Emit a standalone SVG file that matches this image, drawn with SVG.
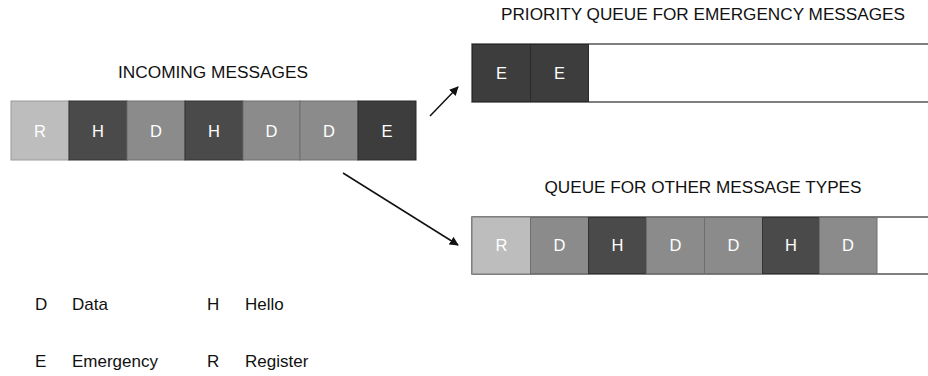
<svg xmlns="http://www.w3.org/2000/svg" width="928" height="376" viewBox="0 0 928 376">
  <style>
    .title { font-family: "Liberation Sans", Arial, sans-serif; font-size: 16px; fill: #111; text-anchor: middle; }
    .cell-text { font-family: "Liberation Sans", Arial, sans-serif; font-size: 16.5px; fill: #fff; text-anchor: middle; }
    .legend { font-family: "Liberation Sans", Arial, sans-serif; font-size: 17px; fill: #111; }
    .R { fill: #bdbdbd; stroke: #9a9a9a; stroke-width: 1; }
    .H { fill: #4a4a4a; stroke: #333; stroke-width: 1; }
    .D { fill: #8b8b8b; stroke: #6e6e6e; stroke-width: 1; }
    .E { fill: #3d3d3d; stroke: #2a2a2a; stroke-width: 1; }
    .queue { fill: #fff; stroke: #555; stroke-width: 1.5; }
    .arrow { stroke: #111; stroke-width: 1.5; fill: none; marker-end: url(#head); }
  </style>
  <defs>
    <marker id="head" viewBox="0 0 10 10" refX="9" refY="5" markerWidth="9" markerHeight="9" markerUnits="userSpaceOnUse" orient="auto">
      <path d="M0,0 L10,5 L0,10 z" fill="#111"/>
    </marker>
  </defs>
  <rect width="928" height="376" fill="#fff"/>

  <!-- incoming message stream -->
  <g id="incoming">
    <text class="title" x="213" y="78" textLength="190" lengthAdjust="spacingAndGlyphs">INCOMING MESSAGES</text>
    <rect class="R" x="11" y="101" width="58" height="59"/>
    <rect class="H" x="69" y="101" width="58" height="59"/>
    <rect class="D" x="127" y="101" width="58" height="59"/>
    <rect class="H" x="185" y="101" width="58" height="59"/>
    <rect class="D" x="243" y="101" width="57" height="59"/>
    <rect class="D" x="300" y="101" width="58" height="59"/>
    <rect class="E" x="358" y="101" width="58" height="59"/>
    <text class="cell-text" x="40" y="137">R</text>
    <text class="cell-text" x="98" y="137">H</text>
    <text class="cell-text" x="156" y="137">D</text>
    <text class="cell-text" x="214" y="137">H</text>
    <text class="cell-text" x="271.5" y="137">D</text>
    <text class="cell-text" x="329" y="137">D</text>
    <text class="cell-text" x="387" y="137">E</text>
  </g>

  <!-- priority queue -->
  <g id="priority-queue">
    <text class="title" x="703" y="20" textLength="404" lengthAdjust="spacingAndGlyphs">PRIORITY QUEUE FOR EMERGENCY MESSAGES</text>
    <rect class="queue" x="472" y="44" width="500" height="58"/>
    <rect class="E" x="472.5" y="44.5" width="58" height="57"/>
    <rect class="E" x="530.5" y="44.5" width="58" height="57"/>
    <text class="cell-text" x="501.5" y="79">E</text>
    <text class="cell-text" x="559.5" y="79">E</text>
  </g>

  <!-- queue for other message types -->
  <g id="other-queue">
    <text class="title" x="703" y="193" textLength="317" lengthAdjust="spacingAndGlyphs">QUEUE FOR OTHER MESSAGE TYPES</text>
    <rect class="queue" x="472" y="217" width="500" height="57"/>
    <rect class="R" x="472.5" y="217.5" width="58" height="56"/>
    <rect class="D" x="530.5" y="217.5" width="58" height="56"/>
    <rect class="H" x="588.5" y="217.5" width="58" height="56"/>
    <rect class="D" x="646.5" y="217.5" width="58" height="56"/>
    <rect class="D" x="704.5" y="217.5" width="58" height="56"/>
    <rect class="H" x="762.5" y="217.5" width="57" height="56"/>
    <rect class="D" x="819.5" y="217.5" width="57.5" height="56"/>
    <text class="cell-text" x="501.5" y="251">R</text>
    <text class="cell-text" x="559.5" y="251">D</text>
    <text class="cell-text" x="617.5" y="251">H</text>
    <text class="cell-text" x="675.5" y="251">D</text>
    <text class="cell-text" x="733.5" y="251">D</text>
    <text class="cell-text" x="791" y="251">H</text>
    <text class="cell-text" x="848" y="251">D</text>
  </g>

  <!-- connectors -->
  <g id="connectors">
    <line class="arrow" x1="430" y1="116" x2="458" y2="87"/>
    <line class="arrow" x1="343" y1="173" x2="458" y2="245"/>
  </g>

  <!-- legend -->
  <g id="legend">
    <text class="legend" x="35" y="310">D</text>
    <text class="legend" x="72" y="310">Data</text>
    <text class="legend" x="207" y="310">H</text>
    <text class="legend" x="245" y="310">Hello</text>
    <text class="legend" x="35" y="367">E</text>
    <text class="legend" x="72" y="367">Emergency</text>
    <text class="legend" x="207" y="367">R</text>
    <text class="legend" x="245" y="367">Register</text>
  </g>
</svg>
